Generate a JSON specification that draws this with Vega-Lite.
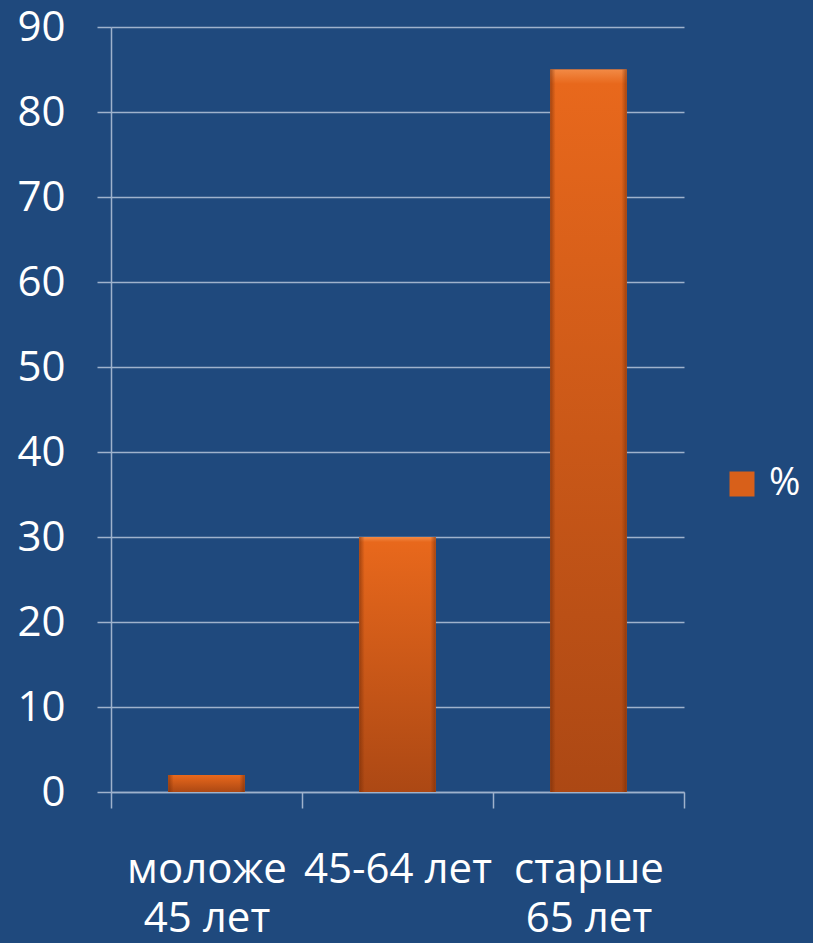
{
  "$schema": "https://vega.github.io/schema/vega-lite/v6.json",
  "autosize": "none",
  "width": 573,
  "height": 765,
  "padding": {"left": 111, "top": 27, "right": 129, "bottom": 151},
  "background": "#1F497D",
  "data": {
    "values": [
      {"group": "моложе\n45 лет", "series": "%", "value": 2},
      {"group": "45-64 лет", "series": "%", "value": 30},
      {"group": "старше\n65 лет", "series": "%", "value": 85}
    ]
  },
  "encoding": {
    "x": {
      "field": "group",
      "type": "nominal",
      "sort": null,
      "scale": {"paddingInner": 0, "paddingOuter": 0},
      "axis": {
        "title": null,
        "labelAngle": 0,
        "labelExpr": "split(datum.label, '\\n')",
        "labelLineHeight": 49,
        "labelPadding": 41,
        "labelFontSize": 42,
        "labelLimit": 0,
        "tickBand": "extent",
        "tickSize": 16,
        "grid": false
      }
    },
    "y": {
      "field": "value",
      "type": "quantitative",
      "scale": {"domain": [0, 90], "nice": false},
      "axis": {
        "title": null,
        "values": [0, 10, 20, 30, 40, 50, 60, 70, 80, 90],
        "tickSize": 14,
        "labelPadding": 32,
        "grid": true
      }
    }
  },
  "layer": [
    {
      "mark": {"type": "bar", "width": {"band": 0.4}},
      "encoding": {
        "color": {
          "field": "series",
          "type": "nominal",
          "scale": {"range": ["#D8601A"]},
          "legend": {
            "title": null,
            "orient": "none",
            "legendX": 612,
            "legendY": 438,
            "symbolType": "square",
            "symbolSize": 625,
            "symbolStrokeWidth": 0,
            "labelFontSize": 38,
            "labelColor": "#FFFFFF",
            "labelFont": "Open Sans",
            "labelOffset": 8
          }
        }
      }
    },
    {
      "mark": {
        "type": "bar",
        "width": {"band": 0.4},
        "fill": {
          "gradient": "linear",
          "x1": 0, "y1": 0, "x2": 0, "y2": 1,
          "stops": [
            {"offset": 0, "color": "#F28A45"},
            {"offset": 0.02, "color": "#E8681C"},
            {"offset": 1, "color": "#AC4814"}
          ]
        }
      }
    },
    {
      "mark": {
        "type": "bar",
        "width": {"band": 0.4},
        "fill": {
          "gradient": "linear",
          "x1": 0, "y1": 0, "x2": 1, "y2": 0,
          "stops": [
            {"offset": 0, "color": "rgba(110,40,5,0.55)"},
            {"offset": 0.07, "color": "rgba(110,40,5,0)"},
            {"offset": 0.93, "color": "rgba(110,40,5,0)"},
            {"offset": 1, "color": "rgba(110,40,5,0.55)"}
          ]
        }
      }
    }
  ],
  "config": {
    "view": {"stroke": null},
    "axis": {
      "domainColor": "#9FB2CC",
      "domainWidth": 1.5,
      "tickColor": "#9FB2CC",
      "tickWidth": 1.5,
      "gridColor": "#9FB2CC",
      "gridWidth": 1.5,
      "labelColor": "#FFFFFF",
      "labelFont": "Open Sans",
      "labelFontSize": 42
    }
  }
}
